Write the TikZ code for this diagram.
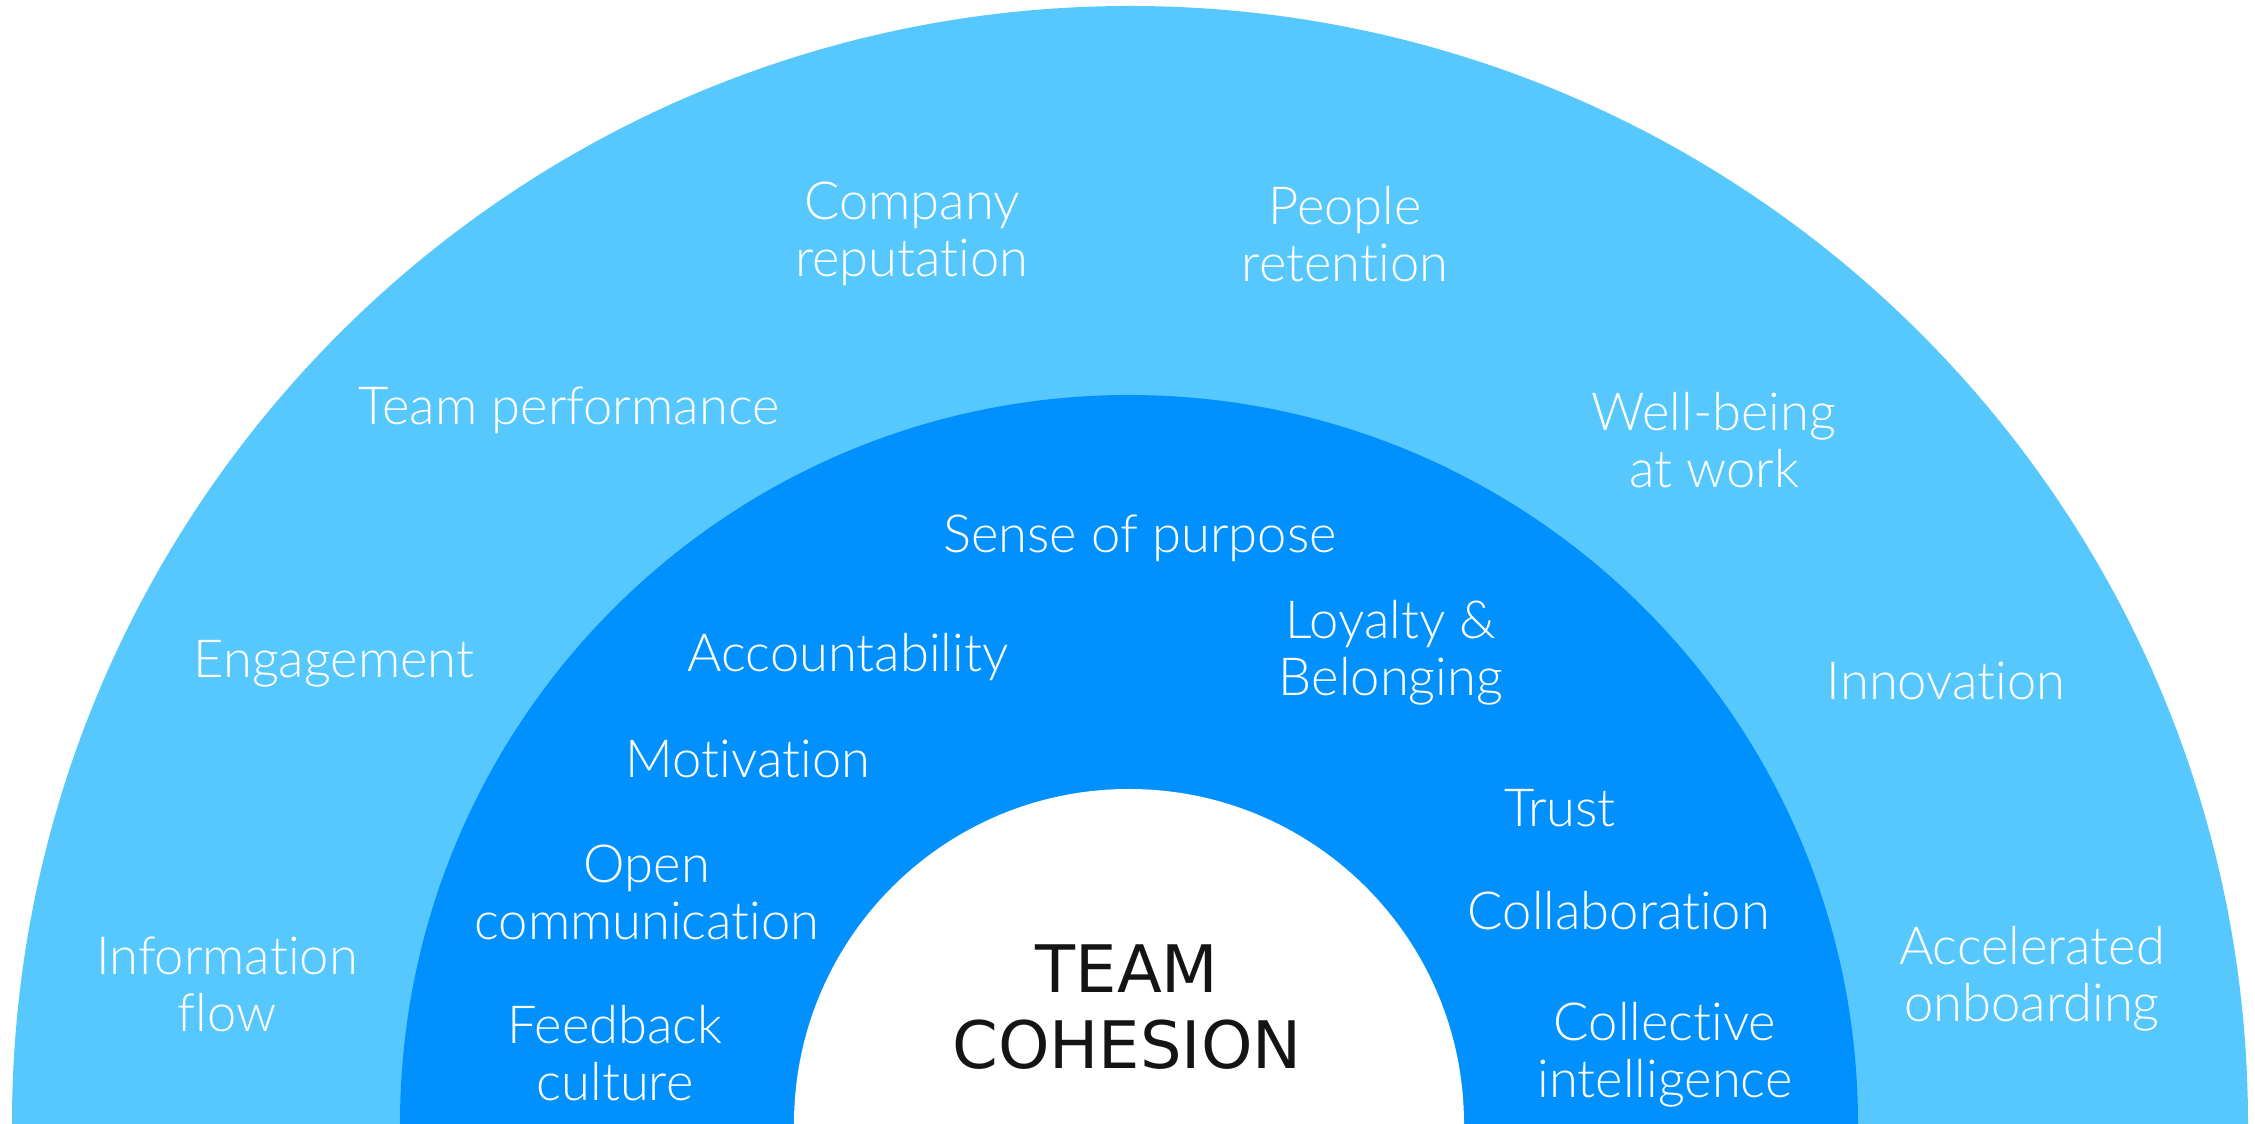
\documentclass[tikz,border=0pt]{standalone}
\usepackage{fontspec}
\setmainfont{DejaVu Sans}
\newfontfamily\lbl{Lato Light}[Ligatures={NoCommon,NoContextual}]
\definecolor{outerblue}{HTML}{56C8FE}
\definecolor{midblue}{HTML}{0191FE}
\definecolor{coreblack}{HTML}{141414}
\tikzset{
  lab/.style={text=white, font=\lbl\fontsize{52.5}{57}\selectfont, align=center, inner sep=0pt},
  core/.style={text=coreblack, font=\fontsize{65.5}{76}\selectfont, align=center, inner sep=0pt}
}
\begin{document}
\begin{tikzpicture}[x=1pt,y=1pt]
\useasboundingbox (0,0) rectangle (2255,1124);
\begin{scope}
\clip (0,0) rectangle (2255,1124);
\fill[white] (0,0) rectangle (2255,1124);
\fill[outerblue] (1130,0) circle (1118);
\fill[midblue] (1129,0) circle (729);
\fill[white] (1129,0) circle (335);
\end{scope}
% outer ring
\node[lab] (rep) at (912,890) {Company\\reputation};
\node[lab] (ret) at (1345,890) {People\\retention};
\node[lab] (perf) at (569,714) {Team performance};
\node[lab] (well) at (1714,684) {Well-being\\at work};
\node[lab] (eng) at (334,460) {Engagement};
\node[lab] (inno) at (1946,443) {Innovation};
\node[lab] (info) at (227,140) {Information\\flow};
\node[lab] (onb) at (2032,145) {Accelerated\\onboarding};
% middle ring
\node[lab] (purp) at (1140,586) {Sense of purpose};
\node[lab] (acc) at (848,467) {Accountability};
\node[lab] (loy) at (1391,471) {Loyalty \&\\Belonging};
\node[lab] (mot) at (748,365) {Motivation};
\node[lab] (trust) at (1560,316) {Trust};
\node[lab] (open) at (647,232) {Open\\communication};
\node[lab] (coll) at (1619,213) {Collaboration};
\node[lab] (feed) at (615,71) {Feedback\\culture};
\node[lab] (ci) at (1665,69) {Collective\\intelligence};
% core
\node[core] (tc) at (1127,117) {TEAM\\COHESION};
\end{tikzpicture}
\end{document}
